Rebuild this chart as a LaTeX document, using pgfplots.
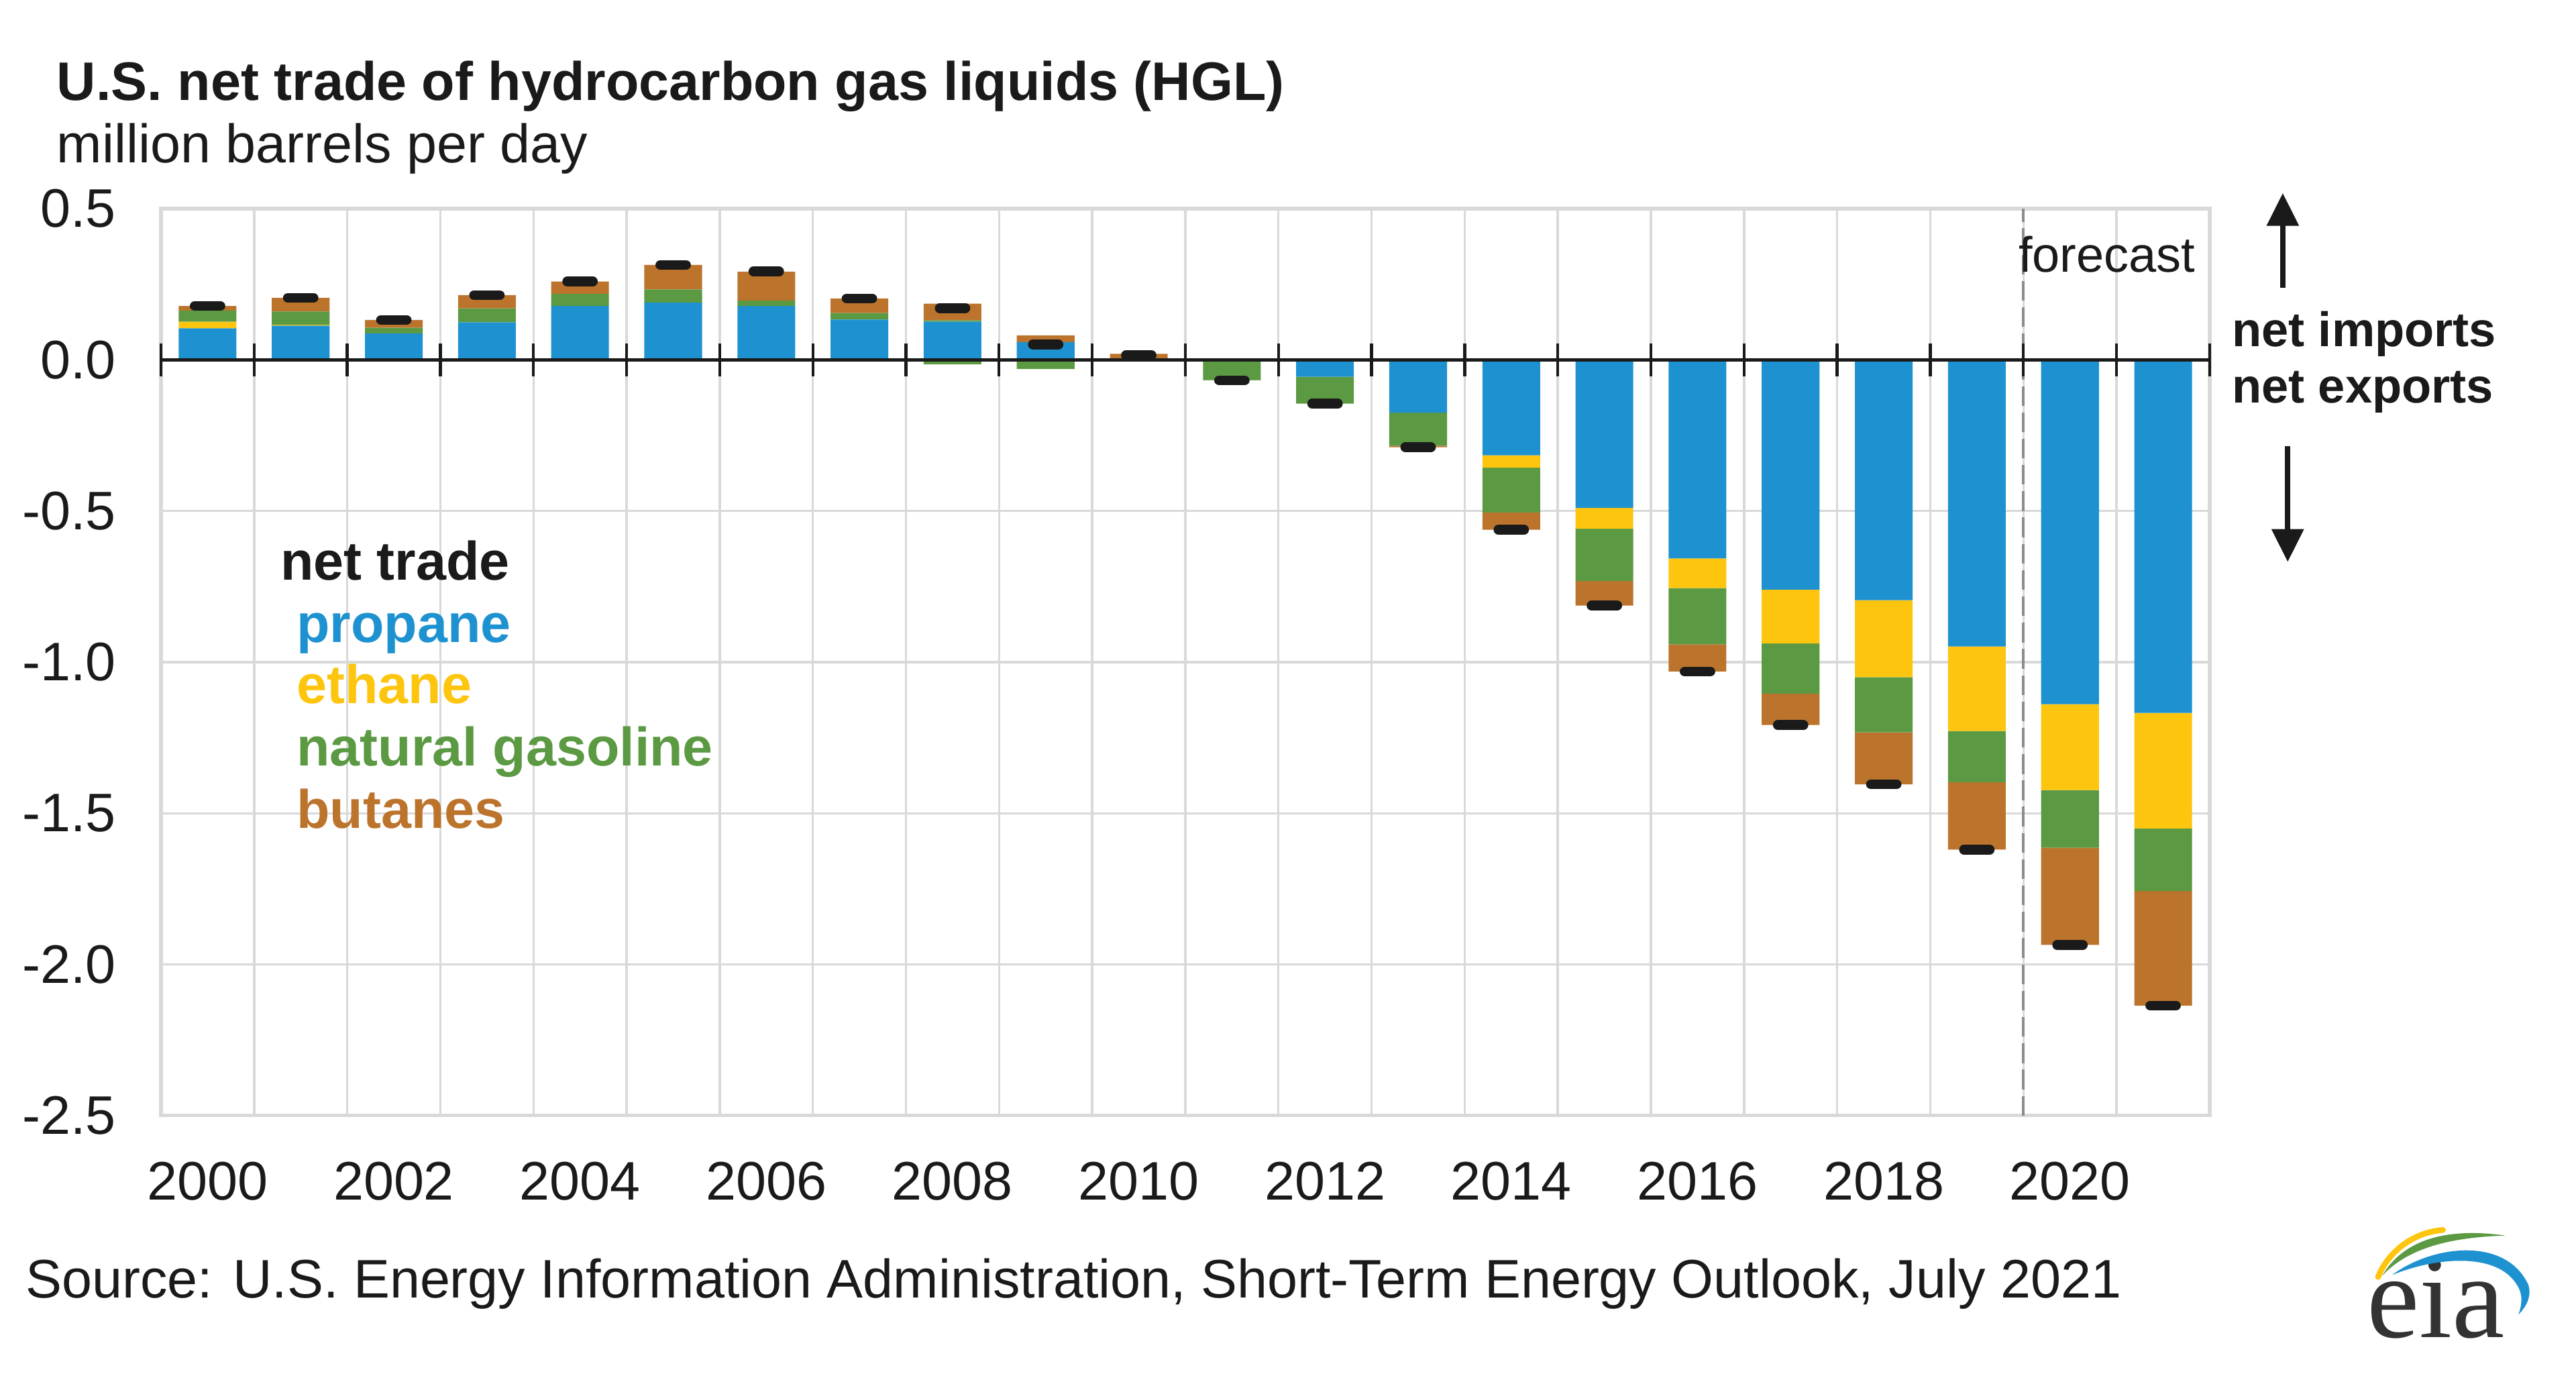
\documentclass[border=0pt]{standalone}
\usepackage{fontspec}
\setmainfont{Liberation Sans}
\newfontfamily\logofont{Liberation Serif}
\usepackage{pgfplots}
\usepackage{pgfplotstable}
\pgfplotsset{compat=1.18}
\usetikzlibrary{arrows.meta}

\definecolor{cprop}{RGB}{30,146,208}
\definecolor{ceth}{RGB}{253,197,14}
\definecolor{cgas}{RGB}{91,153,66}
\definecolor{cbut}{RGB}{188,116,45}
\definecolor{cgrid}{RGB}{217,217,217}
\definecolor{ctext}{RGB}{26,26,26}

\newcommand\f{\fontsize{9.4}{11}\selectfont}

% positive parts (net imports)
\pgfplotstableread{
year prop eth gas but
2000 0.104 0.022 0.037 0.015
2001 0.113 0.003 0.044 0.045
2002 0.087 0 0.019 0.026
2003 0.124 0 0.046 0.044
2004 0.178 0 0.040 0.041
2005 0.189 0 0.044 0.081
2006 0.178 0 0.018 0.096
2007 0.133 0 0.022 0.048
2008 0.126 0 0.005 0.055
2009 0.059 0 0 0.022
2010 0 0 0 0.020
2011 0 0 0 0
2012 0 0 0 0
2013 0 0 0 0
2014 0 0 0 0
2015 0 0 0 0
2016 0 0 0 0
2017 0 0 0 0
2018 0 0 0 0
2019 0 0 0 0
2020 0 0 0 0
2021 0 0 0 0
}\postable

% negative parts (net exports)
\pgfplotstableread{
year prop eth gas but
2000 0 0 0 0
2001 0 0 0 0
2002 0 0 0 0
2003 0 0 0 0
2004 0 0 0 0
2005 0 0 0 0
2006 0 0 0 0
2007 0 0 0 0
2008 0 0 -0.015 0
2009 0 0 -0.030 0
2010 0 0 -0.005 0
2011 -0.005 0 -0.062 -0.001
2012 -0.056 0 -0.089 0
2013 -0.175 0 -0.109 -0.005
2014 -0.316 -0.041 -0.148 -0.057
2015 -0.490 -0.069 -0.172 -0.082
2016 -0.657 -0.098 -0.186 -0.090
2017 -0.760 -0.178 -0.166 -0.104
2018 -0.795 -0.255 -0.182 -0.172
2019 -0.948 -0.280 -0.169 -0.223
2020 -1.139 -0.284 -0.191 -0.321
2021 -1.168 -0.382 -0.207 -0.379
}\negtable

% total net trade
\pgfplotstableread{
year total
2000 0.178
2001 0.205
2002 0.132
2003 0.214
2004 0.259
2005 0.314
2006 0.292
2007 0.203
2008 0.171
2009 0.051
2010 0.015
2011 -0.068
2012 -0.145
2013 -0.289
2014 -0.562
2015 -0.813
2016 -1.031
2017 -1.208
2018 -1.404
2019 -1.620
2020 -1.935
2021 -2.136
}\tottable

\pgfplotsset{
  base/.style={
    scale only axis, width=124.7mm, height=55.2mm,
    xmin=1999.5, xmax=2021.5, ymin=-2.5, ymax=0.5,
    at={(9.8mm,15.7mm)}, anchor=south west, clip=false,
  },
}

\begin{document}
\begin{tikzpicture}
\useasboundingbox (0,0) rectangle (156.8mm,83.6mm);

% ---------- background axis with grid and positive bars
\begin{axis}[base, ybar stacked, bar width=0.62,
  axis line style={cgrid, line width=0.6pt},
  xtick={2000,2002,...,2020},
  minor xtick={1999.5,2000.5,...,2021.5},
  xminorgrids, minor x grid style={cgrid, line width=0.4pt},
  ytick={-2.5,-2,-1.5,-1,-0.5,0,0.5},
  ymajorgrids, major y grid style={cgrid, line width=0.4pt},
  major tick length=0pt, minor tick length=0pt,
  tick label style={font=\f, text=ctext},
  xticklabel style={yshift=-1.6mm, /pgf/number format/.cd, 1000 sep={}, assume math mode=true},
  yticklabel style={xshift=-1.5mm, /pgf/number format/.cd, fixed, fixed zerofill, precision=1, assume math mode=true},
]
\addplot[fill=cprop, draw=none] table[x=year, y=prop]{\postable};
\addplot[fill=ceth, draw=none] table[x=year, y=eth]{\postable};
\addplot[fill=cgas, draw=none] table[x=year, y=gas]{\postable};
\addplot[fill=cbut, draw=none] table[x=year, y=but]{\postable};
\draw[black!45, line width=0.5pt, dash pattern=on 1.2mm off 0.4mm] (axis cs:2019.5,-2.5) -- (axis cs:2019.5,0.5);
\end{axis}

% ---------- negative bars
\begin{axis}[base, ybar stacked, bar width=0.62, hide axis]
\addplot[fill=cprop, draw=none] table[x=year, y=prop]{\negtable};
\addplot[fill=ceth, draw=none] table[x=year, y=eth]{\negtable};
\addplot[fill=cgas, draw=none] table[x=year, y=gas]{\negtable};
\addplot[fill=cbut, draw=none] table[x=year, y=but]{\negtable};
\end{axis}

% ---------- zero line with ticks and total markers
\begin{axis}[base,
  axis x line=middle, axis y line=none,
  axis line style={-, ctext, line width=0.55pt},
  xtick={1999.5,2000.5,...,2021.5}, xticklabels={},
  major tick length=2mm, tick align=center,
  x tick style={ctext, line width=0.5pt},
]
\addplot[only marks, mark=-, mark size=0.78mm,
  mark options={draw=ctext, line width=1.7pt, line cap=round}]
  table[x=year, y=total]{\tottable};
\end{axis}

% ---------- titles
\node[anchor=base west, inner sep=0, font=\bfseries\f, text=ctext] at (3.4mm,77.5mm)
  {U.S. net trade of hydrocarbon gas liquids (HGL)};
\node[anchor=base west, inner sep=0, font=\f, text=ctext] at (3.4mm,73.7mm)
  {million barrels per day};

% ---------- legend
\node[anchor=base west, inner sep=0, font=\bfseries\f, text=ctext] at (17.0mm,48.3mm) {net trade};
\node[anchor=base west, inner sep=0, font=\bfseries\f, text=cprop] at (18.0mm,44.5mm) {propane};
\node[anchor=base west, inner sep=0, font=\bfseries\f, text=ceth] at (18.0mm,40.8mm) {ethane};
\node[anchor=base west, inner sep=0, font=\bfseries\f, text=cgas] at (18.0mm,37.0mm) {natural gasoline};
\node[anchor=base west, inner sep=0, font=\bfseries\f, text=cbut] at (18.0mm,33.2mm) {butanes};

% ---------- forecast, imports/exports
\node[anchor=base west, inner sep=0, font=\fontsize{8.6}{10}\selectfont, text=ctext] at (122.8mm,67.05mm) {forecast};
\node[anchor=base west, inner sep=0, font=\bfseries\fontsize{8.4}{10}\selectfont, text=ctext] at (135.8mm,62.5mm) {net imports};
\node[anchor=base west, inner sep=0, font=\bfseries\fontsize{8.4}{10}\selectfont, text=ctext] at (135.8mm,59.1mm) {net exports};
\draw[ctext, line width=0.95pt, -{Triangle[length=2mm,width=1.9mm]}] (138.95mm,66.1mm) -- (138.95mm,71.85mm);
\draw[ctext, line width=0.95pt, -{Triangle[length=2mm,width=1.9mm]}] (139.25mm,56.45mm) -- (139.25mm,49.4mm);

% ---------- source
\node[anchor=base west, inner sep=0, font=\f, text=ctext] at (1.5mm,4.6mm)
  {Source: U.S. Energy Information Administration, Short-Term Energy Outlook, July 2021};

% ---------- eia logo
\node[anchor=base west, inner sep=0, font=\logofont\fontsize{20.5}{20}\selectfont, text=black!80] at (144.0mm,2.2mm) {eia};
\draw[ceth, line width=0.35mm, line cap=round] (144.75mm,5.88mm) .. controls (145.3mm,7.3mm) and (146.8mm,8.6mm) .. (148.7mm,8.74mm);
\fill[cgas] (145.0mm,5.95mm) .. controls (146.3mm,8.2mm) and (149.0mm,8.9mm) .. (152.5mm,8.4mm)
  .. controls (149.3mm,8.3mm) and (146.6mm,7.7mm) .. (145.0mm,5.95mm) -- cycle;
\fill[cprop] (145.6mm,6.0mm) .. controls (148.0mm,7.8mm) and (152.5mm,8.4mm) .. (153.9mm,5.4mm)
  .. controls (154.1mm,4.7mm) and (153.8mm,4.1mm) .. (153.3mm,3.6mm)
  .. controls (153.5mm,4.2mm) and (153.6mm,4.8mm) .. (153.2mm,5.4mm)
  .. controls (152.0mm,7.4mm) and (148.3mm,7.1mm) .. (145.6mm,6.0mm) -- cycle;
\end{tikzpicture}
\end{document}
